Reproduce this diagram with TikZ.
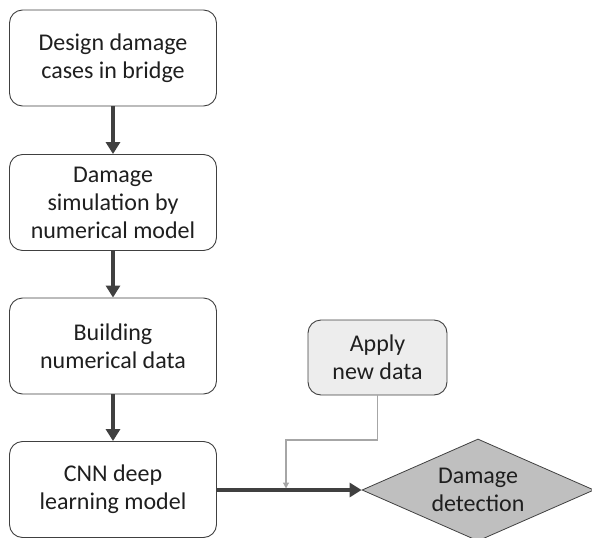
\documentclass[tikz,border=0pt]{standalone}
\usepackage{fontspec}
\setmainfont{Carlito}
\usetikzlibrary{shapes.geometric,arrows.meta}
\definecolor{txt}{HTML}{1F1F1F}
\definecolor{edge}{HTML}{404040}
\definecolor{lgray}{HTML}{EDEDED}
\definecolor{dgray}{HTML}{BFBFBF}
\begin{document}
\begin{tikzpicture}[x=1pt,y=-1pt,
  stepbox/.style={draw=edge,line width=0.9pt,rounded corners=13pt,minimum width=207pt,minimum height=96pt,align=center,text=txt,font=\fontsize{24}{28}\selectfont,fill=white},
  mainarrow/.style={draw=edge,line width=3.2pt,-{Triangle[length=12pt,width=14pt]}},
  ]
\useasboundingbox (0,0) rectangle (592,538);
\node[stepbox] (b1) at (113,58) {Design damage\\cases in bridge};
\node[stepbox] (b2) at (113,202.5) {Damage\\simulation by\\numerical model};
\node[stepbox] (b3) at (113,346) {Building\\numerical data};
\node[stepbox] (b4) at (113,489.5) {CNN deep\\learning model};
\node[stepbox,fill=lgray,minimum width=139pt,minimum height=75pt] (ap) at (377.5,357.5) {Apply\\new data};
\node[diamond,draw=edge,line width=0.8pt,fill=dgray,minimum width=232pt,minimum height=102pt,inner sep=0pt,aspect=2.27,text=txt,align=center,font=\fontsize{24}{28}\selectfont] (dd) at (478,490) {Damage\\detection};
\draw[mainarrow] (b1) -- (b2);
\draw[mainarrow] (b2) -- (b3);
\draw[mainarrow] (b3) -- (b4);
\draw[mainarrow] (b4.east |- dd.west) -- (dd.west);
\coordinate (j) at (286,440);
\draw[draw=gray!70,line width=1.2pt,-{Triangle[length=6pt,width=6pt]}] (ap.south) |- (j) -- (286,488.5);
\end{tikzpicture}
\end{document}
